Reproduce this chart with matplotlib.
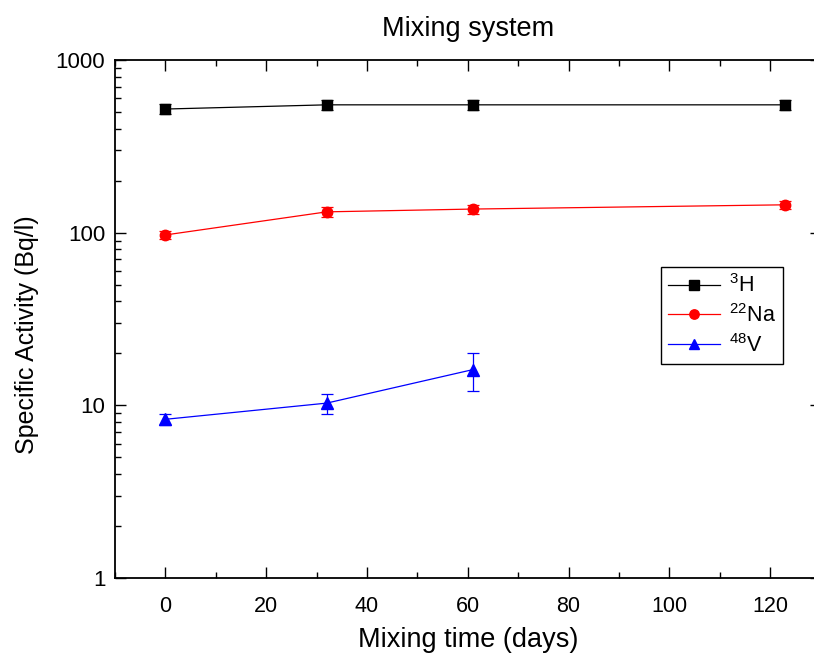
import matplotlib
matplotlib.use("Agg")
import matplotlib.pyplot as plt
from matplotlib.lines import Line2D
from matplotlib.ticker import FuncFormatter, LogLocator, MultipleLocator, NullFormatter

plt.rcParams['font.family'] = ['Liberation Sans', 'DejaVu Sans']
plt.rcParams['mathtext.fontset'] = 'custom'
plt.rcParams['mathtext.rm'] = 'Liberation Sans'
plt.rcParams['mathtext.it'] = 'Liberation Sans:italic'
plt.rcParams['mathtext.bf'] = 'Liberation Sans:bold'

# ---- data ----
days_h = [0, 32, 61, 123]
act_h = [520, 550, 550, 550]
err_h = [35, 35, 35, 35]

days_na = [0, 32, 61, 123]
act_na = [97, 132, 137, 145]
err_na = [5, 9, 8, 7]

days_v = [0, 32, 61]
act_v = [8.3, 10.3, 16.1]
err_v = [0.6, 1.4, 4.0]

labels = ['$^{3}$H', '$^{22}$Na', '$^{48}$V']
colors = ['#000000', '#FF0000', '#0000FF']
markers = ['s', 'o', '^']

title = 'Mixing system'
xlabel = 'Mixing time (days)'
ylabel = 'Specific Activity (Bq/l)'

W, H = 814, 655
fig = plt.figure(figsize=(W / 100, H / 100), dpi=100)
left, bottom = 115 / W, (H - 578) / H
width, height = (140 * 5.04) / W, 518 / H
ax = fig.add_axes([left, bottom, width, height])

series = [(days_h, act_h, err_h), (days_na, act_na, err_na), (days_v, act_v, err_v)]
msizes = [7.5, 7.5, 8.5]
handles = []
for (x, y, e), lab, c, m, ms in zip(series, labels, colors, markers, msizes):
    ax.errorbar(x, y, yerr=e, color=c, marker=m, markersize=ms, linewidth=0.9,
                elinewidth=0.9, capsize=4, capthick=0.9,
                markeredgecolor=c, markerfacecolor=c)
    handles.append(Line2D([], [], color=c, marker=m, markersize=ms * 0.9,
                          linewidth=0.9, markeredgecolor=c, markerfacecolor=c,
                          label=lab))

ax.set_yscale('log')
ax.set_ylim(1, 1000)
ax.set_xlim(-10, 130)
ax.xaxis.set_major_locator(MultipleLocator(20))
ax.xaxis.set_minor_locator(MultipleLocator(10))
ax.yaxis.set_major_locator(LogLocator(base=10))
ax.yaxis.set_minor_locator(LogLocator(base=10, subs=range(2, 10)))
ax.yaxis.set_major_formatter(FuncFormatter(lambda v, p: f"{v:g}"))
ax.yaxis.set_minor_formatter(NullFormatter())

for s in ax.spines.values():
    s.set_linewidth(1.3)

ax.tick_params(which='both', direction='in', top=True, right=True, width=1.0)
ax.tick_params(which='major', length=8)
ax.tick_params(which='minor', length=4, right=False)
ax.tick_params(axis='x', which='both', labelsize=15.5, pad=13)
ax.tick_params(axis='y', which='both', labelsize=16, pad=7)

ax.set_title(title, fontsize=19.5, pad=17)
fig.text(468 / W, 8 / H, xlabel, fontsize=19.5, ha='center', va='baseline')
fig.text(27 / W, (H - 334.5) / H, ylabel, fontsize=18, rotation=90,
         ha='center', va='center')

leg = ax.legend(handles=handles, loc='upper left',
                bbox_to_anchor=(660.7 / W, (H - 266.7) / H),
                bbox_transform=fig.transFigure, fontsize=15.5, frameon=True,
                fancybox=False, shadow=False, framealpha=1, edgecolor='black',
                handlelength=2.4, handletextpad=0.4, labelspacing=0.32,
                borderpad=0.35, borderaxespad=0)
leg.get_frame().set_linewidth(1.0)

fig.savefig('out.png', dpi=100)
